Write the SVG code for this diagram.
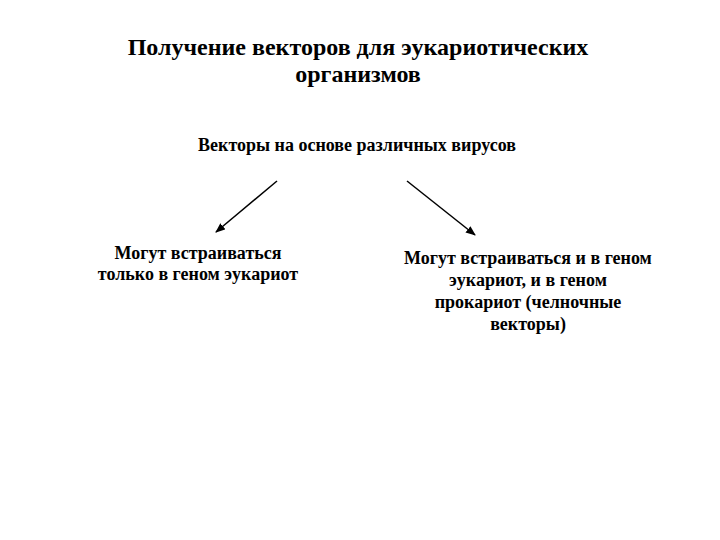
<svg xmlns="http://www.w3.org/2000/svg" width="720" height="540" viewBox="0 0 720 540">
<style>
text{font-family:"Liberation Serif",serif;font-weight:bold;fill:#000;text-anchor:middle}
.t{font-size:24px}.s{font-size:18px}
.c{stroke:#000;stroke-width:1.5;fill:none;marker-end:url(#a)}
</style>
<defs><marker id="a" markerWidth="10" markerHeight="8" refX="9" refY="4" orient="auto" markerUnits="userSpaceOnUse"><path d="M0,0L10,4L0,8z" fill="#000"/></marker></defs>
<rect width="720" height="540" fill="#fff"/>
<g id="title"><text class="t" x="358" y="55">Получение векторов для эукариотических</text><text class="t" x="358" y="82">организмов</text></g>
<g id="root"><text class="s" x="357" y="151">Векторы на основе различных вирусов</text></g>
<g id="left"><text class="s" x="198" y="259">Могут встраиваться</text><text class="s" x="198" y="280">только в геном эукариот</text></g>
<g id="right"><text class="s" x="528" y="264">Могут встраиваться и в геном</text><text class="s" x="528" y="286">эукариот, и в геном</text><text class="s" x="528" y="308">прокариот (челночные</text><text class="s" x="528" y="330">векторы)</text></g>
<g id="connectors"><path class="c" d="M277,181L216,232"/><path class="c" d="M407,181L475,235"/></g>
</svg>
